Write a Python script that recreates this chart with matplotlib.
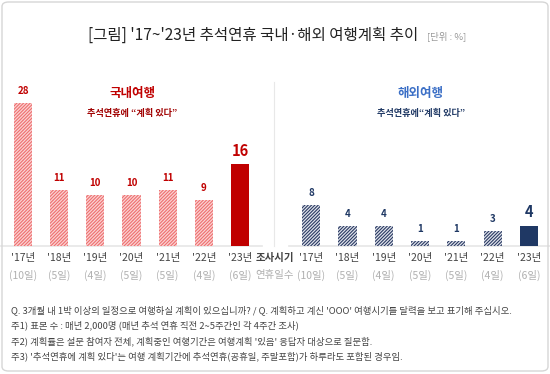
import matplotlib
matplotlib.use("Agg")
import matplotlib.pyplot as plt
from matplotlib.patches import FancyBboxPatch
from matplotlib import transforms

plt.rcParams['font.family'] = ['Noto Sans CJK KR', 'DejaVu Sans']
plt.rcParams['hatch.linewidth'] = 0.8

years = ["'17년", "'18년", "'19년", "'20년", "'21년", "'22년", "'23년"]
holidays = ["(10일)", "(5일)", "(4일)", "(5일)", "(5일)", "(4일)", "(6일)"]
domestic = [28, 11, 10, 10, 11, 9, 16]
overseas = [8, 4, 4, 1, 1, 3, 4]

W, H = 550, 374
fig = plt.figure(figsize=(W / 100, H / 100), dpi=100)
fig.patch.set_facecolor('white')

def fx(px):
    return px / W

def fy(py):
    return 1 - py / H

# border
border = FancyBboxPatch((fx(2), fy(371)), fx(546), 369 / H,
                        boxstyle="round,pad=0,rounding_size=0.012",
                        transform=fig.transFigure, facecolor='none',
                        edgecolor='#d6d6d6', linewidth=1.0, zorder=5)
fig.add_artist(border)

# title
fig.text(fx(253), fy(35), "[그림] '17~'23년 추석연휴 국내·해외 여행계획 추이",
         ha='center', va='center', fontsize=11.2, color='#222222')
fig.text(fx(427), fy(36), "[단위 : %]", ha='left', va='center', fontsize=6.8, color='#999999')

ylim = 30
scale = 5.1
base_y = 246
ax_h = ylim * scale

def make_ax(left_px, right_px):
    ax = fig.add_axes([fx(left_px), fy(base_y), (right_px - left_px) / W, ax_h / H])
    ax.set_xlim(-0.5, 6.5)
    ax.set_ylim(0, ylim)
    ax.axis('off')
    ax.patch.set_alpha(0)
    return ax

axL = make_ax(5, 258)
axR = make_ax(293, 547)

xs = list(range(len(years)))

# left bars
for i, v in enumerate(domestic):
    if i == len(domestic) - 1:
        axL.bar(i, v, width=0.5, color='#c00000', linewidth=0)
    else:
        axL.bar(i, v, width=0.5, facecolor='#fbd3d3', edgecolor='#ee6f6f',
                hatch='//////////', linewidth=0)
# right bars
for i, v in enumerate(overseas):
    if i == len(overseas) - 1:
        axR.bar(i, v, width=0.5, color='#1f3864', linewidth=0)
    else:
        axR.bar(i, v, width=0.5, facecolor='#dfe3ec', edgecolor='#2b3a62',
                hatch='//////////', linewidth=0)

# baselines
for ax in (axL, axR):
    ax.plot([-0.62, 6.62], [0, 0], color='#e6e6e6', linewidth=1.2, clip_on=False, zorder=0)

# value labels
for i, v in enumerate(domestic):
    last = i == len(domestic) - 1
    axL.annotate(str(v), (i, v), xytext=(0, 4 if last else 5), textcoords='offset points',
                 ha='center', va='bottom', fontsize=10.5 if last else 7,
                 fontweight='bold', color='#c00000')
for i, v in enumerate(overseas):
    last = i == len(overseas) - 1
    axR.annotate(str(v), (i, v), xytext=(0, 4 if last else 5), textcoords='offset points',
                 ha='center', va='bottom', fontsize=10.5 if last else 7,
                 fontweight='bold', color='#1f3864')

# tick labels
for ax in (axL, axR):
    tr = transforms.blended_transform_factory(ax.transData, fig.transFigure)
    for i in xs:
        ax.text(i, fy(258), years[i], transform=tr, ha='center', va='center',
                fontsize=7.5, color='#444444', fontweight='medium')
        ax.text(i, fy(275), holidays[i], transform=tr, ha='center', va='center',
                fontsize=7.5, color='#b0b0b0')

fig.text(fx(275), fy(258), "조사시기", ha='center', va='center', fontsize=7.5,
         color='#444444', fontweight='bold')
fig.text(fx(275), fy(275), "연휴일수", ha='center', va='center', fontsize=7.5, color='#b0b0b0')

# separator
fig.add_artist(plt.Line2D([fx(273.5), fx(273.5)], [fy(82), fy(246)],
                          transform=fig.transFigure, color='#e8e8e8', linewidth=0.8))

# panel headings
fig.text(fx(132), fy(94), "국내여행", ha='center', va='center', fontsize=9,
         fontweight='bold', color='#c00000')
fig.text(fx(132), fy(113), "추석연휴에 \u201c계획 있다\u201d", ha='center', va='center',
         fontsize=6.6, fontweight='bold', color='#a00000')
fig.text(fx(421), fy(94), "해외여행", ha='center', va='center', fontsize=9,
         fontweight='bold', color='#3b6fc6')
fig.text(fx(421), fy(113), "추석연휴에\u201c계획 있다\u201d", ha='center', va='center',
         fontsize=6.6, fontweight='bold', color='#1f3864')

# footnotes
notes = [
    "Q. 3개월 내 1박 이상의 일정으로 여행하실 계획이 있으십니까? / Q. 계획하고 계신 'OOO' 여행시기를 달력을 보고 표기해 주십시오.",
    "주1) 표본 수 : 매년 2,000명 (매년 추석 연휴 직전 2~5주간인 각 4주간 조사)",
    "주2) 계획률은 설문 참여자 전체, 계획중인 여행기간은 여행계획 '있음' 응답자 대상으로 질문함.",
    "주3) '추석연휴에 계획 있다'는 여행 계획기간에 추석연휴(공휴일, 주말포함)가 하루라도 포함된 경우임.",
]
for k, t in enumerate(notes):
    fig.text(fx(11), fy(310 + 15.5 * k), t, ha='left', va='center', fontsize=6.75, color='#444444')

fig.savefig("out.png", dpi=100, facecolor='white')
